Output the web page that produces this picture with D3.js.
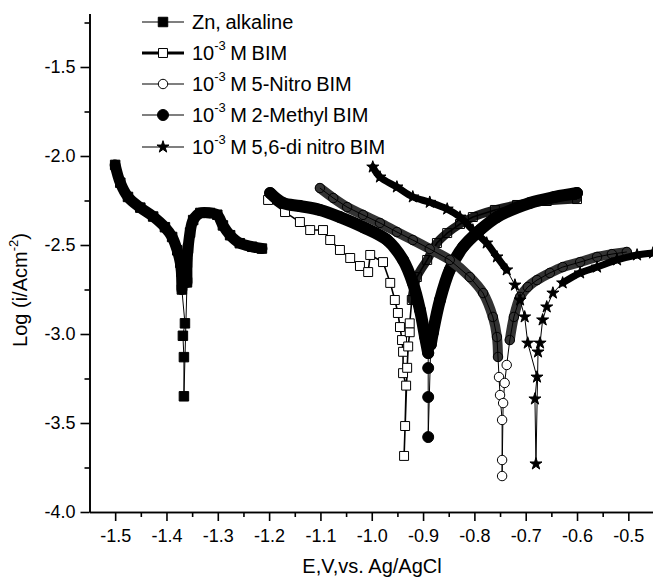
<!DOCTYPE html>
<html>
<head>
<meta charset="utf-8">
<script src="https://cdn.jsdelivr.net/npm/d3@7"></script>
<style>
body { margin: 0; background: #fff; }
text { font-family: "Liberation Sans", Arial, sans-serif; fill: #000; }
</style>
</head>
<body>
<svg></svg>
<script>
// potential (V vs Ag/AgCl) and log i, in scan order
var znE = [-1.500, -1.490, -1.475, -1.451, -1.426, -1.403, -1.389, -1.379, -1.373, -1.371, -1.370,
  -1.364, -1.368, -1.366, -1.366,
  -1.360, -1.360, -1.358, -1.354, -1.348, -1.334, -1.315, -1.301, -1.290, -1.276, -1.257, -1.233, -1.214];
var znLog = [-2.05, -2.15, -2.23, -2.29, -2.34, -2.40, -2.455, -2.53, -2.60, -2.65, -2.75,
  -2.94, -3.01, -3.13, -3.35,
  -2.71, -2.60, -2.52, -2.43, -2.36, -2.32, -2.32, -2.33, -2.39, -2.445, -2.49, -2.51, -2.52];

var bimE = [-1.202, -1.169, -1.140, -1.120, -1.095, -1.081, -1.062, -1.042, -1.023, -1.007, -1.003,
  -0.978, -0.964, -0.955, -0.949, -0.945, -0.941, -0.939, -0.939, -0.933, -0.935, -0.937,
  -0.931, -0.929, -0.926, -0.926, -0.922, -0.912, -0.892, -0.873, -0.853, -0.828, -0.803,
  -0.760, -0.717, -0.659, -0.600];
var bimLog = [-2.247, -2.315, -2.371, -2.416, -2.416, -2.472, -2.528, -2.573, -2.618, -2.652, -2.556,
  -2.596, -2.713, -2.809, -2.882, -2.961, -3.034, -3.10, -3.22, -3.29, -3.517, -3.685,
  -3.19, -3.07, -2.99, -2.94, -2.809, -2.680, -2.584, -2.489, -2.433, -2.382, -2.343,
  -2.303, -2.275, -2.253, -2.242];

var nitroE = [-1.101, -1.075, -1.048, -1.017, -0.984, -0.951, -0.920, -0.887, -0.848, -0.809, -0.783,
  -0.764, -0.756, -0.754, -0.752, -0.750, -0.746, -0.746, -0.746,
  -0.744, -0.741, -0.737, -0.731, -0.723, -0.711, -0.696, -0.678, -0.653, -0.628, -0.594,
  -0.561, -0.532, -0.503];
var nitroLog = [-2.180, -2.236, -2.287, -2.331, -2.376, -2.427, -2.472, -2.522, -2.584, -2.680, -2.770,
  -2.904, -3.017, -3.129, -3.242, -3.343, -3.483, -3.708, -3.798,
  -3.388, -3.275, -3.174, -3.034, -2.904, -2.792, -2.736, -2.697, -2.657, -2.624, -2.596,
  -2.567, -2.551, -2.539];

var methylE = [-1.198, -1.173, -1.140, -1.101, -1.062, -1.017, -0.970, -0.939, -0.920, -0.906, -0.896,
  -0.890, -0.890, -0.890, -0.890,
  -0.885, -0.881, -0.867, -0.848, -0.822, -0.789, -0.756, -0.692, -0.643, -0.600];
var methylLog = [-2.208, -2.264, -2.281, -2.303, -2.343, -2.399, -2.472, -2.584, -2.713, -2.865, -3.017,
  -3.107, -3.191, -3.354, -3.579,
  -3.060, -2.994, -2.809, -2.640, -2.511, -2.416, -2.343, -2.264, -2.230, -2.208];

var dinitroE = [-0.998, -0.984, -0.951, -0.920, -0.887, -0.853, -0.828, -0.803, -0.776, -0.756, -0.737,
  -0.721, -0.711, -0.702, -0.696, -0.678, -0.682, -0.680,
  -0.676, -0.672, -0.667, -0.659, -0.647, -0.628, -0.594, -0.561, -0.522, -0.483, -0.452];
var dinitroLog = [-2.062, -2.118, -2.174, -2.230, -2.260, -2.298, -2.343, -2.416, -2.489, -2.567, -2.640,
  -2.725, -2.809, -2.904, -3.051, -3.242, -3.365, -3.730,
  -3.101, -3.051, -2.921, -2.848, -2.770, -2.713, -2.657, -2.624, -2.584, -2.556, -2.545];

var xTicks = [-1.5, -1.4, -1.3, -1.2, -1.1, -1.0, -0.9, -0.8, -0.7, -0.6, -0.5];
var xMinor = [-1.45, -1.35, -1.25, -1.15, -1.05, -0.95, -0.85, -0.75, -0.65, -0.55];
var yTicks = [-4.0, -3.5, -3.0, -2.5, -2.0, -1.5];
var yMinor = [-3.75, -3.25, -2.75, -2.25, -1.75, -1.25];
var legendNames = ["Zn, alkaline", "10^-3 M BIM", "10^-3 M 5-Nitro BIM", "10^-3 M 2-Methyl BIM", "10^-3 M 5,6-di nitro BIM"];

var svgWidth = 653, svgHeight = 584;
var svg = d3.select("svg")
    .attr("width", svgWidth)
    .attr("height", svgHeight);

var x = d3.scaleLinear().domain([-1.55, -0.45]).range([89.5, 654]);
var y = d3.scaleLinear().domain([-4.0, -1.2]).range([512, 13.6]);

// styles; bands = index ranges where the markers sit so close they merge into one thick trace
var series = [
  {e: znE, v: znLog, sym: d3.symbolSquare, size: 90, filled: true, lw: 1, band: 11, bandColor: "#000", bands: [[0, 10], [15, 27]]},
  {e: bimE, v: bimLog, sym: d3.symbolSquare, size: 80, filled: false, lw: 1.6, band: 9, bandColor: "#1c1c1c", bands: [[26, 36]]},
  {e: methylE, v: methylLog, sym: d3.symbolCircle, size: 95, filled: true, lw: 1, band: 12, bandColor: "#000", bands: [[0, 11], [15, 24]]},
  {e: nitroE, v: nitroLog, sym: d3.symbolCircle, size: 70, filled: false, lw: 1, band: 10, bandColor: "#333", bands: [[0, 13], [22, 32]]},
  {e: dinitroE, v: dinitroLog, sym: d3.symbolStar, size: 45, filled: true, lw: 1, band: 7, bandColor: "#000", bands: [[0, 10], [23, 28]]}
];
var legendOrder = [0, 1, 3, 2, 4];

svg.append("clipPath").attr("id", "plotclip")
  .append("rect")
    .attr("x", 89).attr("y", 10)
    .attr("width", 570).attr("height", 503);

var plot = svg.append("g").attr("clip-path", "url(#plotclip)");

var thinLine = d3.line().x(d => x(d.e)).y(d => y(d.v));
var bandLine = d3.line().x(d => x(d.e)).y(d => y(d.v)).curve(d3.curveCatmullRom);

drawSeries = s => {
  var pts = s.e.map((e, i) => ({e: e, v: s.v[i], i: i}));
  var inBand = i => s.bands.some(r => i >= r[0] && i <= r[1]);
  var g = plot.append("g");

  s.bands.forEach(r => {
    g.append("path")
      .attr("d", bandLine(pts.slice(r[0], r[1] + 1)))
      .attr("fill", "none")
      .attr("stroke", s.bandColor)
      .attr("stroke-width", s.band)
      .attr("stroke-linecap", "round")
      .attr("stroke-linejoin", "round");
  });

  g.append("path")
    .attr("d", thinLine(pts))
    .attr("fill", "none")
    .attr("stroke", "#000")
    .attr("stroke-width", s.lw);

  g.selectAll("path.mk")
    .data(pts)
    .enter()
    .append("path")
      .attr("class", "mk")
      .attr("transform", d => "translate(" + x(d.e) + "," + y(d.v) + ")")
      .attr("d", d3.symbol().type(s.sym).size(s.size))
      .attr("fill", d => s.filled ? "#000" : (inBand(d.i) ? "none" : "#fff"))
      .attr("stroke", "#000")
      .attr("stroke-width", 1);
};

series.forEach(s => drawSeries(s));

// axes
var fmt = d => d.toFixed(1);
svg.append("g")
    .attr("transform", "translate(0,512)")
    .call(d3.axisBottom(x).tickValues(xTicks).tickFormat(fmt).tickSize(9).tickSizeOuter(0).tickPadding(8));
svg.append("g")
    .attr("transform", "translate(0,512)")
    .call(d3.axisBottom(x).tickValues(xMinor).tickFormat("").tickSize(5).tickSizeOuter(0));
svg.append("g")
    .attr("transform", "translate(89.5,0)")
    .call(d3.axisLeft(y).tickValues(yTicks).tickFormat(fmt).tickSize(9).tickSizeOuter(0).tickPadding(5));
svg.append("g")
    .attr("transform", "translate(89.5,0)")
    .call(d3.axisLeft(y).tickValues(yMinor).tickFormat("").tickSize(5).tickSizeOuter(0));

svg.selectAll(".domain, .tick line")
    .attr("stroke", "#000")
    .attr("stroke-width", 1.6);
svg.selectAll(".tick text")
    .attr("font-size", 18)
    .attr("font-family", "Liberation Sans, Arial, sans-serif");

// axis titles
svg.append("text")
    .attr("x", 372)
    .attr("y", 573)
    .attr("text-anchor", "middle")
    .attr("font-size", 20)
    .text("E,V,vs. Ag/AgCl");

var yt = svg.append("text")
    .attr("transform", "translate(27,290) rotate(-90)")
    .attr("text-anchor", "middle")
    .attr("font-size", 20);
yt.append("tspan").text("Log (i/Acm");
yt.append("tspan").attr("font-size", 13).attr("dy", -9).text("-2");
yt.append("tspan").attr("dy", 9).text(")");

// legend
var rowY = [22, 53, 84, 115, 147];
legendOrder.forEach((k, i) => {
  var s = series[k];
  var g = svg.append("g").attr("transform", "translate(0," + rowY[i] + ")");
  g.append("line")
    .attr("x1", 142).attr("x2", 184)
    .attr("stroke", "#000")
    .attr("stroke-width", s.lw > 1 ? 2.8 : 1.2);
  g.append("path")
    .attr("transform", "translate(163,0)")
    .attr("d", d3.symbol().type(s.sym).size(s.size))
    .attr("fill", s.filled ? "#000" : "#fff")
    .attr("stroke", "#000");
  var parts = legendNames[i].split("^");
  var t = g.append("text")
    .attr("x", 192)
    .attr("y", 7)
    .attr("font-size", 20)
    .attr("word-spacing", -1);
  if (parts.length == 1) {
    t.text(parts[0]);
  } else {
    var rest = parts[1].split(" ");
    t.append("tspan").text(parts[0]);
    t.append("tspan").attr("font-size", 13).attr("dy", -10).text(rest[0]);
    t.append("tspan").attr("dy", 10).text(" " + rest.slice(1).join(" "));
  }
});
</script>
</body>
</html>
